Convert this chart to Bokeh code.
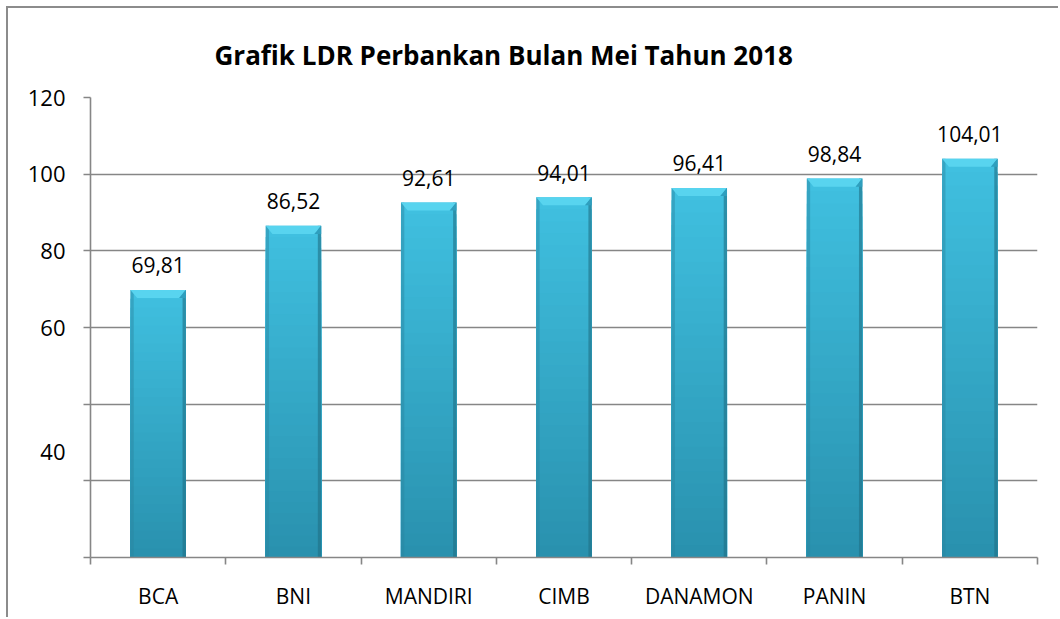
import numpy as np
from bokeh.plotting import figure
from bokeh.models import FixedTicker, Range1d
from bokeh.embed import file_html
from bokeh.resources import INLINE

banks = ["BCA", "BNI", "MANDIRI", "CIMB", "DANAMON", "PANIN", "BTN"]
ldr = [69.81, 86.52, 92.61, 94.01, 96.41, 98.84, 104.01]
value_labels = ["69,81", "86,52", "92,61", "94,01", "96,41", "98,84", "104,01"]
y_ticks = [0, 20, 40, 60, 80, 100, 120]
# label positions as drawn in the original (its "40" label sits off its gridline)
y_label_pos = [27.4, 60, 80, 100, 120]
y_label_text = ["40", "60", "80", "100", "120"]
title_text = "Grafik  LDR Perbankan Bulan Mei Tahun 2018"

FONT = "Open Sans"
GRAY = "#868686"

n = len(banks)
xs = np.arange(n) + 0.5
vals = np.array(ldr)

p = figure(width=1052, height=611, output_backend="svg", toolbar_location=None,
           x_range=Range1d(0, n), y_range=Range1d(0, 120),
           min_border_left=82, min_border_right=23, min_border_top=89, min_border_bottom=62)
p.styles = {"border-top": "2px solid #8c8c8c", "border-left": "2px solid #8c8c8c",
            "margin-left": "6px", "margin-top": "6px"}
p.outline_line_color = None
p.background_fill_color = "white"

# title
p.title.text = title_text
p.title.align = "left"
p.title.text_font = FONT
p.title.text_font_style = "bold"
p.title.text_font_size = "26px"
p.title.text_color = "black"
p.title.offset = 124
p.title.standoff = 49

# gradient bars: draw full-height first, then progressively shorter darker slices on top
bw = 0.41
top_c = np.array([0x40, 0xc0, 0xe0])
bot_c = np.array([0x29, 0x90, 0xad])
nsl = 30
for i in range(nsl, 0, -1):
    f = i / nsl
    c = bot_c + (top_c - bot_c) * f
    col = "#%02x%02x%02x" % tuple(int(v) for v in c)
    p.vbar(x=xs, width=bw, bottom=0, top=vals * f, fill_color=col, line_color=None)
# darker side edges
edge = bw * 0.06
p.vbar(x=xs - bw / 2 + edge / 2, width=edge, bottom=0, top=vals, fill_color="#2a86a0", fill_alpha=0.45, line_color=None)
p.vbar(x=xs + bw / 2 - edge / 2, width=edge, bottom=0, top=vals, fill_color="#1f6f86", fill_alpha=0.6, line_color=None)
# bevel top
bev = 2.1
bxs, bys = [], []
for x, v in zip(xs, vals):
    bxs.append([x - bw / 2, x + bw / 2, x + bw / 2 - 0.05, x - bw / 2 + 0.05])
    bys.append([v, v, v - bev, v - bev])
p.patches(bxs, bys, fill_color="#58d4ef", line_color=None)
bxs2, bys2 = [], []
for x, v in zip(xs, vals):
    bxs2.append([x + bw / 2, x + bw / 2, x + bw / 2 - 0.05])
    bys2.append([v, v - bev, v - bev])
p.patches(bxs2, bys2, fill_color="#2f9fbe", line_color=None)

# value labels
p.text(x=xs, y=vals + 4.3, text=value_labels, text_align="center", text_baseline="bottom",
       text_font={"value": FONT}, text_font_size="21px", text_color="black")

# axes
p.xgrid.visible = False
p.ygrid.ticker = FixedTicker(ticks=y_ticks)
p.ygrid.grid_line_color = GRAY
p.ygrid.grid_line_width = 1.6

p.yaxis.ticker = FixedTicker(ticks=y_label_pos, minor_ticks=y_ticks)
p.yaxis.major_label_overrides = {v: t for v, t in zip(y_label_pos, y_label_text)}
p.yaxis.axis_line_color = GRAY
p.yaxis.axis_line_width = 1.6
p.yaxis.major_tick_line_color = None
p.yaxis.major_tick_in = 0
p.yaxis.major_tick_out = 7
p.yaxis.minor_tick_line_color = GRAY
p.yaxis.minor_tick_line_width = 1.6
p.yaxis.minor_tick_in = 0
p.yaxis.minor_tick_out = 7
p.yaxis.major_label_text_font = FONT
p.yaxis.major_label_text_font_size = "22px"
p.yaxis.major_label_text_color = "black"
p.yaxis.major_label_standoff = 18

p.xaxis.ticker = FixedTicker(ticks=list(xs), minor_ticks=list(range(n + 1)))
p.xaxis.major_label_overrides = {float(x): b for x, b in zip(xs, banks)}
p.xaxis.axis_line_color = GRAY
p.xaxis.axis_line_width = 1.6
p.xaxis.major_tick_line_color = None
p.xaxis.minor_tick_line_color = GRAY
p.xaxis.minor_tick_line_width = 1.6
p.xaxis.minor_tick_in = 0
p.xaxis.minor_tick_out = 7
p.xaxis.major_label_text_font = FONT
p.xaxis.major_label_text_font_size = "21px"
p.xaxis.major_label_text_color = "black"
p.xaxis.major_label_standoff = 17

open("out.html", "w").write(file_html(p, INLINE))
